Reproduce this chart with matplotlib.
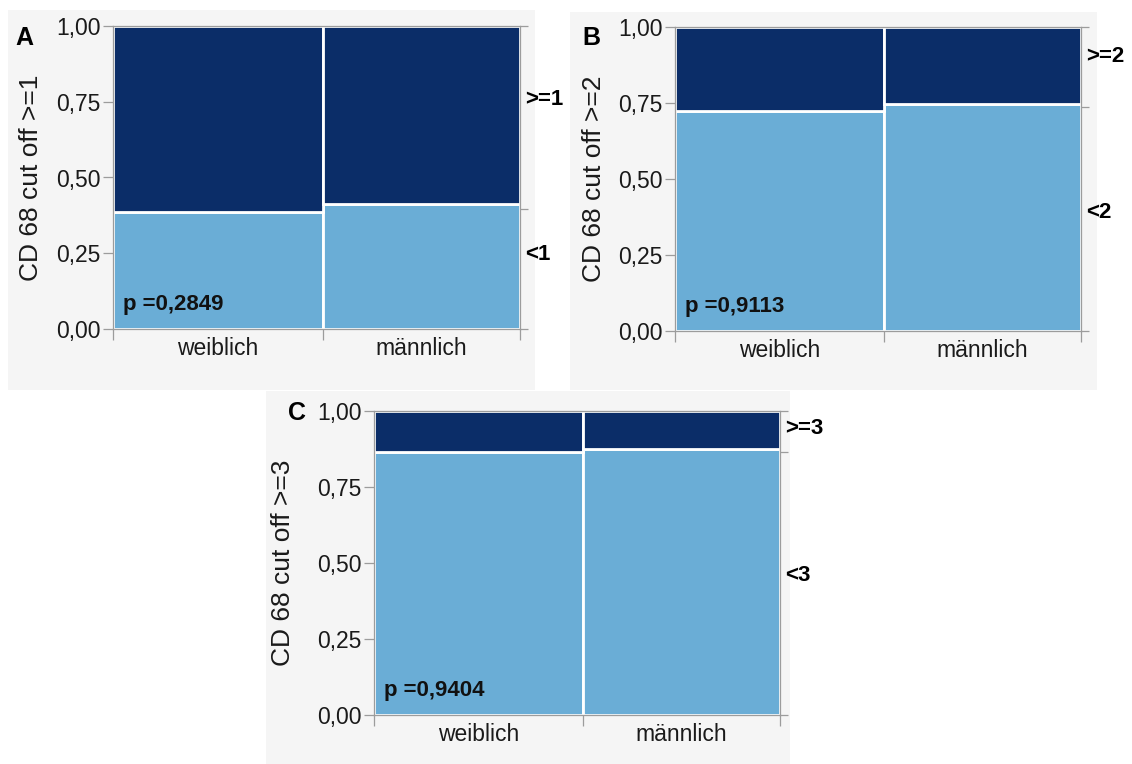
import matplotlib
matplotlib.use("Agg")
import matplotlib.pyplot as plt
from matplotlib.patches import Rectangle

plt.rcParams['font.family'] = ['Liberation Sans', 'DejaVu Sans']

W, H = 1132, 764

# mosaic data: share of "weiblich" in each cohort, share below cut off per group
panel_letters = ["A", "B", "C"]
cut_labels = [">=1", ">=2", ">=3"]
low_labels = ["<1", "<2", "<3"]
col_share_weiblich = [0.516, 0.515, 0.515]
low_share_weiblich = [0.387, 0.723, 0.864]
low_share_maennlich = [0.411, 0.748, 0.875]
low_share_total = [0.397, 0.737, 0.866]
p_values = ["0,2849", "0,9113", "0,9404"]
groups = ["weiblich", "männlich"]
y_ticks = [0.0, 0.25, 0.5, 0.75, 1.0]
y_tick_labels = ["0,00", "0,25", "0,50", "0,75", "1,00"]

# layout in pixels: panel backgrounds, plot areas, letter positions
panel_boxes = [(8, 10, 535, 390), (570, 12, 1097, 390), (266, 391, 790, 764)]
plot_boxes = [(113, 26, 520, 329), (675, 27, 1081, 331), (374, 411, 780, 715)]
letter_pos = [(24, 38), (591, 38), (297, 413)]
ylabel_x = [31, 594, 283]
upper_label_y = [0.757, 0.904, 0.943]
lower_label_y = [0.247, 0.389, 0.458]

DARK = "#0b2d68"
LIGHT = "#6aadd6"
GREY = "#9c9c9c"


def px_rect(x0, y0, x1, y1):
    return [x0 / W, 1 - y1 / H, (x1 - x0) / W, (y1 - y0) / H]


def draw_mosaic(fig, i):
    ax = fig.add_axes(px_rect(*plot_boxes[i]))
    w = col_share_weiblich[i]
    lefts = [0, w]
    widths = [w, 1 - w]
    lows = [low_share_weiblich[i], low_share_maennlich[i]]

    ax.bar(lefts, lows, width=widths, align="edge", color=LIGHT,
           edgecolor="white", linewidth=2)
    ax.bar(lefts, [1 - v for v in lows], bottom=lows, width=widths,
           align="edge", color=DARK, edgecolor="white", linewidth=2)

    ax.set_xlim(0, 1)
    ax.set_ylim(0, 1)
    for s in ax.spines.values():
        s.set_color(GREY)
        s.set_linewidth(0.9)

    ax.set_yticks(y_ticks)
    ax.set_yticklabels(y_tick_labels, fontsize=16.5, color="#1a1a1a")
    ax.tick_params(axis="y", direction="out", length=7, width=0.9,
                   color=GREY, pad=2)

    ax.set_xticks([0, w, 1])
    ax.set_xticklabels([])
    ax.tick_params(axis="x", which="major", direction="out", length=8,
                   width=0.9, color=GREY)
    ax.set_xticks([w / 2, w + (1 - w) / 2], minor=True)
    ax.set_xticklabels(groups, minor=True, fontsize=16.5, color="#1a1a1a")
    ax.tick_params(axis="x", which="minor", length=0, pad=6)

    ax2 = ax.twinx()
    ax2.set_ylim(0, 1)
    ax2.set_yticks([0, low_share_total[i], 1])
    ax2.set_yticklabels([])
    ax2.tick_params(axis="y", direction="out", length=6, width=0.9,
                    color=GREY)
    for s in ax2.spines.values():
        s.set_visible(False)

    ax.text(1.012, upper_label_y[i], cut_labels[i], transform=ax.transAxes,
            fontsize=16, fontweight="bold", va="center", ha="left")
    ax.text(1.012, lower_label_y[i], low_labels[i], transform=ax.transAxes,
            fontsize=16, fontweight="bold", va="center", ha="left")

    ax.text(0.025, 0.08, "p =" + p_values[i], transform=ax.transAxes,
            fontsize=16, fontweight="bold", va="center", ha="left",
            color="#111111")

    x0, y0, x1, y1 = plot_boxes[i]
    fig.text(ylabel_x[i] / W, 1 - (y0 + y1) / 2 / H,
             "CD 68 cut off " + cut_labels[i], rotation=90, fontsize=19,
             va="center", ha="center", color="#1a1a1a")
    lx, ly = letter_pos[i]
    fig.text(lx / W, 1 - ly / H, panel_letters[i], fontsize=18,
             fontweight="bold", va="center", ha="center")


fig = plt.figure(figsize=(W / 100, H / 100), dpi=100)
fig.patch.set_facecolor("white")

for box in panel_boxes:
    x0, y0, x1, y1 = box
    fig.patches.append(Rectangle((x0 / W, 1 - y1 / H), (x1 - x0) / W,
                                 (y1 - y0) / H, transform=fig.transFigure,
                                 facecolor="#f5f5f5", edgecolor="none",
                                 zorder=-1))

for i in range(3):
    draw_mosaic(fig, i)

fig.savefig("out.png", dpi=100)
